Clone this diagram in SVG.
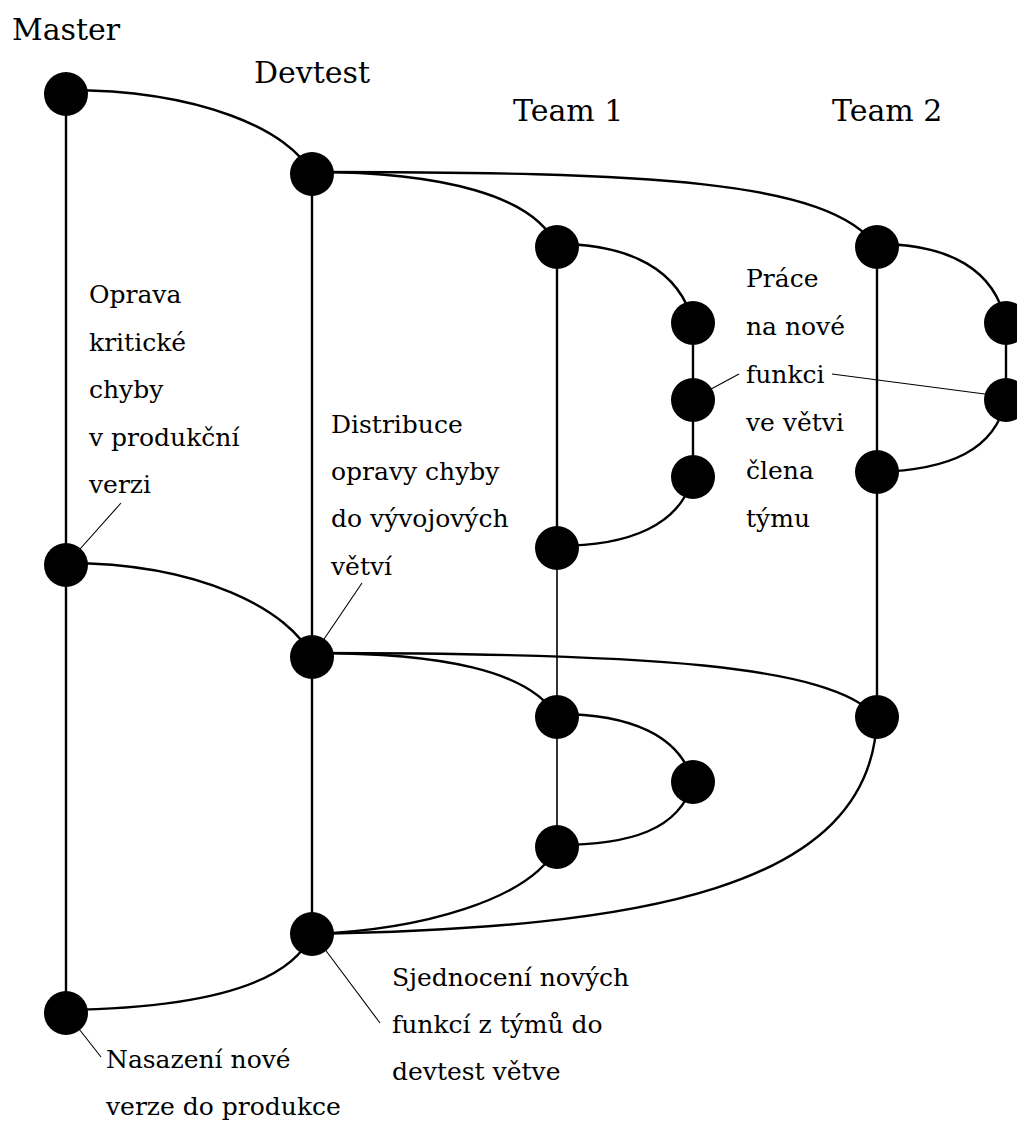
<svg xmlns="http://www.w3.org/2000/svg" width="1017" height="1121" viewBox="0 0 1017 1121">
<style>
.c{fill:none;stroke:#000;stroke-width:2.4}
.t{fill:none;stroke:#000;stroke-width:1.6}
.l{fill:none;stroke:#000;stroke-width:1.1}
.n{fill:#000}
.h{font-family:"DejaVu Serif","Liberation Serif",serif;font-size:30px;fill:#000}
.x{font-family:"DejaVu Serif","Liberation Serif",serif;font-size:25px;fill:#000}
</style>
<rect width="1017" height="1121" fill="#fff"/>
<g id="headers">
<text class="h" x="12" y="40">Master</text>
<text class="h" x="254" y="83">Devtest</text>
<text class="h" x="513" y="121">Team 1</text>
<text class="h" x="832" y="121">Team 2</text>
</g>
<g id="connectors">
<line class="c" x1="66" y1="94" x2="66" y2="1013"/>
<line class="c" x1="312" y1="174" x2="312" y2="934"/>
<line class="c" x1="557" y1="247" x2="557" y2="548"/>
<line class="t" x1="557" y1="548" x2="557" y2="847"/>
<line class="c" x1="693" y1="323" x2="693" y2="477"/>
<line class="c" x1="877" y1="247" x2="877" y2="717"/>
<line class="c" x1="1006" y1="323" x2="1006" y2="400"/>
<path class="c" d="M66 90 C200 90 290 130 312 174"/>
<path class="c" d="M312 172 C440 172 535 195 557 247"/>
<path class="c" d="M312 172 C650 172 830 180 877 247"/>
<path class="c" d="M557 244 C630 244 680 270 693 323"/>
<path class="c" d="M693 477 C680 525 630 546 557 546"/>
<path class="c" d="M877 244 C950 244 995 270 1006 323"/>
<path class="c" d="M1006 400 C995 450 950 470 877 472"/>
<path class="c" d="M66 563 C200 563 290 610 312 657"/>
<path class="c" d="M312 653 C440 653 530 670 557 717"/>
<path class="c" d="M312 653 C650 653 830 665 877 717"/>
<path class="c" d="M557 714 C630 714 680 735 693 782"/>
<path class="c" d="M693 782 C680 830 630 845 557 845"/>
<path class="c" d="M557 847 C530 900 420 930 312 934"/>
<path class="c" d="M877 717 C872 890 640 928 312 934"/>
<path class="c" d="M312 934 C290 985 200 1008 66 1010"/>
<line class="l" x1="121" y1="503" x2="72" y2="558"/>
<line class="l" x1="362" y1="583" x2="318" y2="648"/>
<line class="l" x1="700" y1="395" x2="739" y2="374"/>
<line class="l" x1="832" y1="374" x2="1000" y2="396"/>
<line class="l" x1="318" y1="940" x2="380" y2="1023"/>
<line class="l" x1="72" y1="1020" x2="101" y2="1057"/>
</g>
<g id="master-1"><circle class="n" cx="66" cy="94" r="22"/></g>
<g id="master-2"><circle class="n" cx="66" cy="565" r="22"/></g>
<g id="master-3"><circle class="n" cx="66" cy="1013" r="22"/></g>
<g id="devtest-1"><circle class="n" cx="312" cy="174" r="22"/></g>
<g id="devtest-2"><circle class="n" cx="312" cy="657" r="22"/></g>
<g id="devtest-3"><circle class="n" cx="312" cy="934" r="22"/></g>
<g id="team1-1"><circle class="n" cx="557" cy="247" r="22"/></g>
<g id="team1-2"><circle class="n" cx="557" cy="548" r="22"/></g>
<g id="team1-3"><circle class="n" cx="557" cy="717" r="22"/></g>
<g id="team1-4"><circle class="n" cx="557" cy="847" r="22"/></g>
<g id="team1-f1"><circle class="n" cx="693" cy="323" r="22"/></g>
<g id="team1-f2"><circle class="n" cx="693" cy="400" r="22"/></g>
<g id="team1-f3"><circle class="n" cx="693" cy="477" r="22"/></g>
<g id="team1-f4"><circle class="n" cx="693" cy="782" r="22"/></g>
<g id="team2-1"><circle class="n" cx="877" cy="247" r="22"/></g>
<g id="team2-2"><circle class="n" cx="877" cy="472" r="22"/></g>
<g id="team2-3"><circle class="n" cx="877" cy="717" r="22"/></g>
<g id="team2-f1"><circle class="n" cx="1006" cy="323" r="22"/></g>
<g id="team2-f2"><circle class="n" cx="1006" cy="400" r="22"/></g>
<g id="label-oprava">
<text class="x" x="89" y="303">Oprava</text>
<text class="x" x="89" y="350.5">kritické</text>
<text class="x" x="89" y="398">chyby</text>
<text class="x" x="89" y="445.5">v produkční</text>
<text class="x" x="89" y="493">verzi</text>
</g>
<g id="label-distribuce">
<text class="x" x="331" y="433">Distribuce</text>
<text class="x" x="331" y="480">opravy chyby</text>
<text class="x" x="331" y="527">do vývojových</text>
<text class="x" x="331" y="575">větví</text>
</g>
<g id="label-prace">
<text class="x" x="746" y="287">Práce</text>
<text class="x" x="746" y="335">na nové</text>
<text class="x" x="746" y="383">funkci</text>
<text class="x" x="746" y="431">ve větvi</text>
<text class="x" x="746" y="479">člena</text>
<text class="x" x="746" y="527">týmu</text>
</g>
<g id="label-sjednoceni">
<text class="x" x="392" y="986">Sjednocení nových</text>
<text class="x" x="392" y="1033">funkcí z týmů do</text>
<text class="x" x="392" y="1080">devtest větve</text>
</g>
<g id="label-nasazeni">
<text class="x" x="106" y="1068">Nasazení nové</text>
<text class="x" x="106" y="1115">verze do produkce</text>
</g>
</svg>
